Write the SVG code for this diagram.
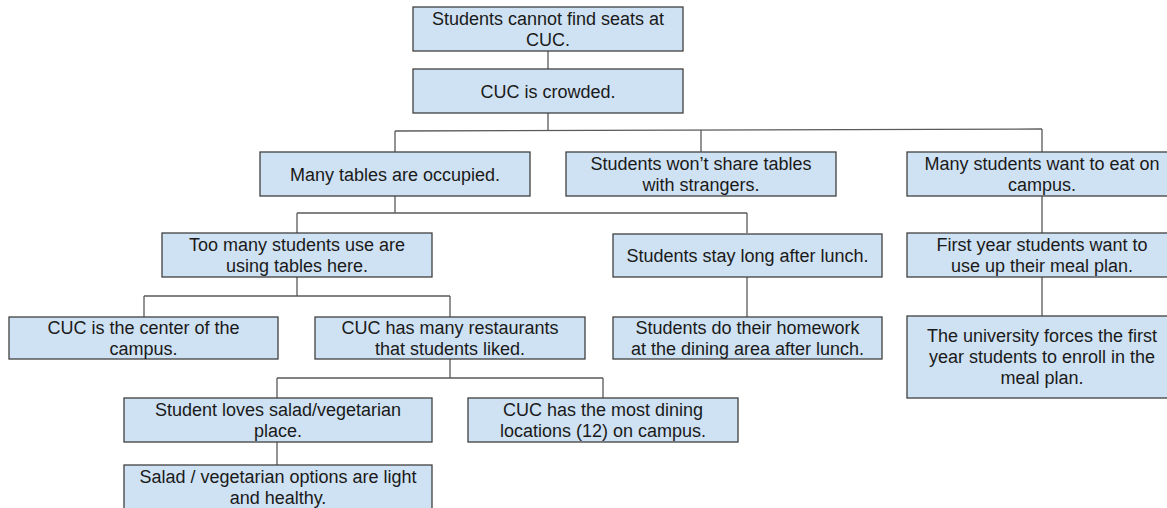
<svg xmlns="http://www.w3.org/2000/svg" width="1167" height="508" viewBox="0 0 1167 508">
<style>
.box{fill:#cfe2f3;stroke:#404040;stroke-width:1.3}
.t{font-family:"Liberation Sans",Arial,sans-serif;font-size:18px;fill:#1a1a1a;text-anchor:middle}
.c{stroke:#5a5a5a;stroke-width:1.3;fill:none}
</style>
<rect width="1167" height="508" fill="#ffffff"/>
<g id="connectors">
<path class="c" d="M548,51V69"/>
<path class="c" d="M548,113V130"/>
<path class="c" d="M395,131L1042,129"/>
<path class="c" d="M395,131V152M701,130V152M1042,129V152"/>
<path class="c" d="M395,196V213M297,213H747M297,213V233M747,213V233"/>
<path class="c" d="M1042,196V233M1042,277V316"/>
<path class="c" d="M747,277V317"/>
<path class="c" d="M297,277V296M144,296H450M144,296V317M450,296V317"/>
<path class="c" d="M450,359V378M277,378H603M277,378V398M603,378V398"/>
<path class="c" d="M277,442V465"/>
</g>
<g id="n1"><rect class="box" x="413" y="7" width="270" height="44"/><text class="t" x="548" y="25">Students cannot find seats at</text><text class="t" x="548" y="45.7">CUC.</text></g>
<g id="n2"><rect class="box" x="413" y="69" width="270" height="44"/><text class="t" x="548" y="97.5">CUC is crowded.</text></g>
<g id="n3"><rect class="box" x="260" y="152" width="270" height="44"/><text class="t" x="395" y="180.5">Many tables are occupied.</text></g>
<g id="n4"><rect class="box" x="566" y="152" width="270" height="44"/><text class="t" x="701" y="170.1">Students won’t share tables</text><text class="t" x="701" y="190.8">with strangers.</text></g>
<g id="n5"><rect class="box" x="907" y="152" width="270" height="44"/><text class="t" x="1042" y="170.1">Many students want to eat on</text><text class="t" x="1042" y="190.8">campus.</text></g>
<g id="n6"><rect class="box" x="162" y="233" width="270" height="44"/><text class="t" x="297" y="251.1">Too many students use are</text><text class="t" x="297" y="271.8">using tables here.</text></g>
<g id="n7"><rect class="box" x="613" y="234" width="269" height="43"/><text class="t" x="747.5" y="262">Students stay long after lunch.</text></g>
<g id="n8"><rect class="box" x="907" y="233" width="270" height="44"/><text class="t" x="1042" y="251.1">First year students want to</text><text class="t" x="1042" y="271.8">use up their meal plan.</text></g>
<g id="n9"><rect class="box" x="9" y="317" width="269" height="42"/><text class="t" x="143.5" y="334.1">CUC is the center of the</text><text class="t" x="143.5" y="354.8">campus.</text></g>
<g id="n10"><rect class="box" x="315" y="317" width="270" height="42"/><text class="t" x="450" y="334.1">CUC has many restaurants</text><text class="t" x="450" y="354.8">that students liked.</text></g>
<g id="n11"><rect class="box" x="613" y="317" width="269" height="42"/><text class="t" x="747.5" y="334.1">Students do their homework</text><text class="t" x="747.5" y="354.8">at the dining area after lunch.</text></g>
<g id="n12"><rect class="box" x="907" y="316" width="270" height="82"/><text class="t" x="1042" y="342.4">The university forces the first</text><text class="t" x="1042" y="363.1">year students to enroll in the</text><text class="t" x="1042" y="383.8">meal plan.</text></g>
<g id="n13"><rect class="box" x="124" y="398" width="308" height="44"/><text class="t" x="278" y="416.1">Student loves salad/vegetarian</text><text class="t" x="278" y="436.8">place.</text></g>
<g id="n14"><rect class="box" x="468" y="398" width="270" height="44"/><text class="t" x="603" y="416.1">CUC has the most dining</text><text class="t" x="603" y="436.8">locations (12) on campus.</text></g>
<g id="n15"><rect class="box" x="124" y="465" width="308" height="50"/><text class="t" x="278" y="483.3">Salad / vegetarian options are light</text><text class="t" x="278" y="504">and healthy.</text></g>
</svg>
